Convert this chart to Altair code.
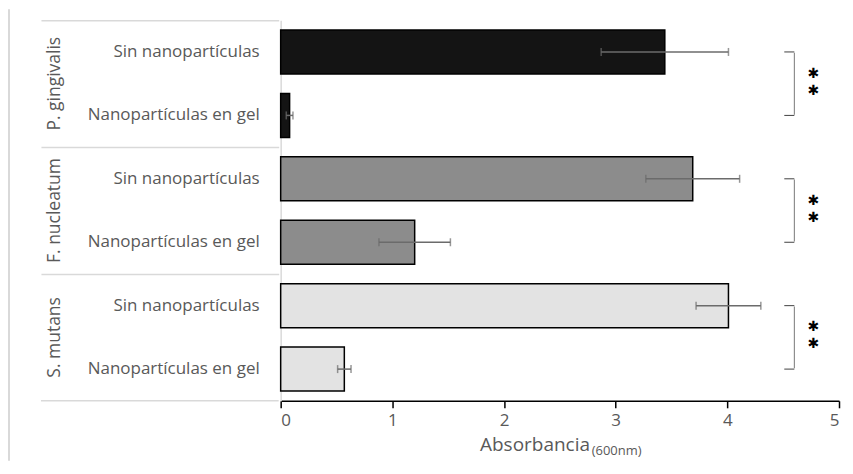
import altair as alt
import pandas as pd

# ---- data ----
group_order = ["P. gingivalis", "F. nucleatum", "S. mutans"]
cond_order = ["Sin nanopartículas", "Nanopartículas en gel"]
groups = ["P. gingivalis", "P. gingivalis", "F. nucleatum", "F. nucleatum", "S. mutans", "S. mutans"]
conditions = ["Sin nanopartículas", "Nanopartículas en gel"] * 3
means = [3.44, 0.08, 3.69, 1.20, 4.01, 0.57]
errors = [0.57, 0.03, 0.42, 0.32, 0.29, 0.06]
x_ticks = [0, 1, 2, 3, 4, 5]
signif = ["✱", "✱", "✱"]

fills = ["#141414", "#8c8c8c", "#e3e3e3"]
FONT = "Open Sans"
TXT = "#595959"
LIGHT = "#d9d9d9"

W, H, LW = 559, 381, 238

df = pd.DataFrame({
    "group": groups,
    "condition": conditions,
    "mean": means,
    "lo": [m - e for m, e in zip(means, errors)],
    "hi": [m + e for m, e in zip(means, errors)],
})
sig_df = pd.DataFrame({"group": group_order, "sig": signif})

band = alt.Scale(domain=group_order, paddingInner=0, paddingOuter=0)
y_enc = alt.Y("group:N", sort=group_order, scale=band)
yoff = alt.YOffset("condition:N", sort=cond_order,
                   scale=alt.Scale(domain=cond_order, paddingInner=0.307, paddingOuter=0.153))

x_scale = alt.Scale(domain=[0, 5], nice=False)

bars = alt.Chart(df).mark_bar(stroke="black", strokeWidth=1.5).encode(
    x=alt.X("mean:Q", scale=x_scale,
            axis=alt.Axis(values=x_ticks, title=None, grid=False, domainColor="black",
                          domainWidth=1.5, tickColor="black", tickWidth=1.5, tickSize=7,
                          labelColor=TXT, labelFont=FONT, labelFontSize=17, labelPadding=5,
                          format="d")),
    y=alt.Y("group:N", sort=group_order, scale=band,
            axis=alt.Axis(labels=False, ticks=False, title=None, grid=False,
                          domainColor=LIGHT, domainWidth=1.5, minExtent=0)),
    yOffset=yoff,
    color=alt.Color("group:N", scale=alt.Scale(domain=group_order, range=fills), legend=None),
)

err_rule = alt.Chart(df).mark_rule(color="#6b6b6b", strokeWidth=1.5).encode(
    x=alt.X("lo:Q", scale=x_scale), x2="hi:Q", y=y_enc, yOffset=yoff)
err_caps = alt.Chart(df).transform_fold(["lo", "hi"], as_=["end", "val"]).mark_tick(
    color="#6b6b6b", thickness=1.5, size=8).encode(
    x=alt.X("val:Q", scale=x_scale), y=y_enc, yOffset=yoff)

br_v = alt.Chart(sig_df).mark_tick(color="#404040", thickness=1, size=62).encode(
    x=alt.datum(4.6, scale=x_scale), y=y_enc)
br_caps = alt.Chart(df).mark_rule(color="#404040", strokeWidth=1).encode(
    x=alt.datum(4.51), x2=alt.datum(4.6), y=y_enc, yOffset=yoff)
star_top = alt.Chart(sig_df).mark_text(font="DejaVu Sans", fontSize=14, color="black",
                                       baseline="middle", dy=-10).encode(
    x=alt.datum(4.77), y=y_enc, text="sig:N")
star_bot = alt.Chart(sig_df).mark_text(font="DejaVu Sans", fontSize=14, color="black",
                                       baseline="middle", dy=7).encode(
    x=alt.datum(4.77), y=y_enc, text="sig:N")

one = sig_df[sig_df["group"] == "S. mutans"]
title_main = alt.Chart(one).mark_text(
    font=FONT, fontSize=19, color=TXT, align="right", baseline="alphabetic").encode(
    x=alt.datum(2.77), y=alt.value(H + 50), text=alt.value("Absorbancia"))
title_sub = alt.Chart(one).mark_text(
    font=FONT, fontSize=13, color=TXT, align="left", baseline="alphabetic").encode(
    x=alt.datum(2.785), y=alt.value(H + 54), text=alt.value("(600nm)"))

main = alt.layer(bars, err_rule, err_caps, br_v, br_caps, star_top, star_bot,
                 title_main, title_sub).properties(width=W, height=H)

# ---- left label panel ----
ly = alt.Y("group:N", sort=group_order, scale=band,
           axis=alt.Axis(labels=False, ticks=False, domain=False, title=None, grid=True,
                         gridColor=LIGHT, gridWidth=1.5, bandPosition=0, minExtent=0))
sub_labels = alt.Chart(df).mark_text(font=FONT, fontSize=17, color=TXT, align="right",
                                     baseline="middle").encode(
    x=alt.value(219), y=ly, yOffset=yoff, text="condition:N")
grp_labels = alt.Chart(sig_df).mark_text(font=FONT, fontSize=17.5, color=TXT, angle=270,
                                         align="center", baseline="middle").encode(
    x=alt.value(14), y=alt.Y("group:N", sort=group_order, scale=band), text="group:N")
bottom_line = alt.Chart(one).mark_rule(color=LIGHT, strokeWidth=1.5).encode(
    x=alt.value(0), x2=alt.value(LW), y=alt.value(H))
frame = alt.Chart(one).mark_rule(color=LIGHT, strokeWidth=2).encode(
    x=alt.value(-32), y=alt.value(-11), y2=alt.value(H + 60))

left = alt.layer(sub_labels, grp_labels, bottom_line, frame).properties(width=LW, height=H)

chart = alt.hconcat(left, main, spacing=0).properties(
    padding={"left": 0, "top": 0, "right": 5, "bottom": 0}
).configure_view(stroke=None)

chart.save("out.html", embed_options={"renderer": "svg", "actions": False})
